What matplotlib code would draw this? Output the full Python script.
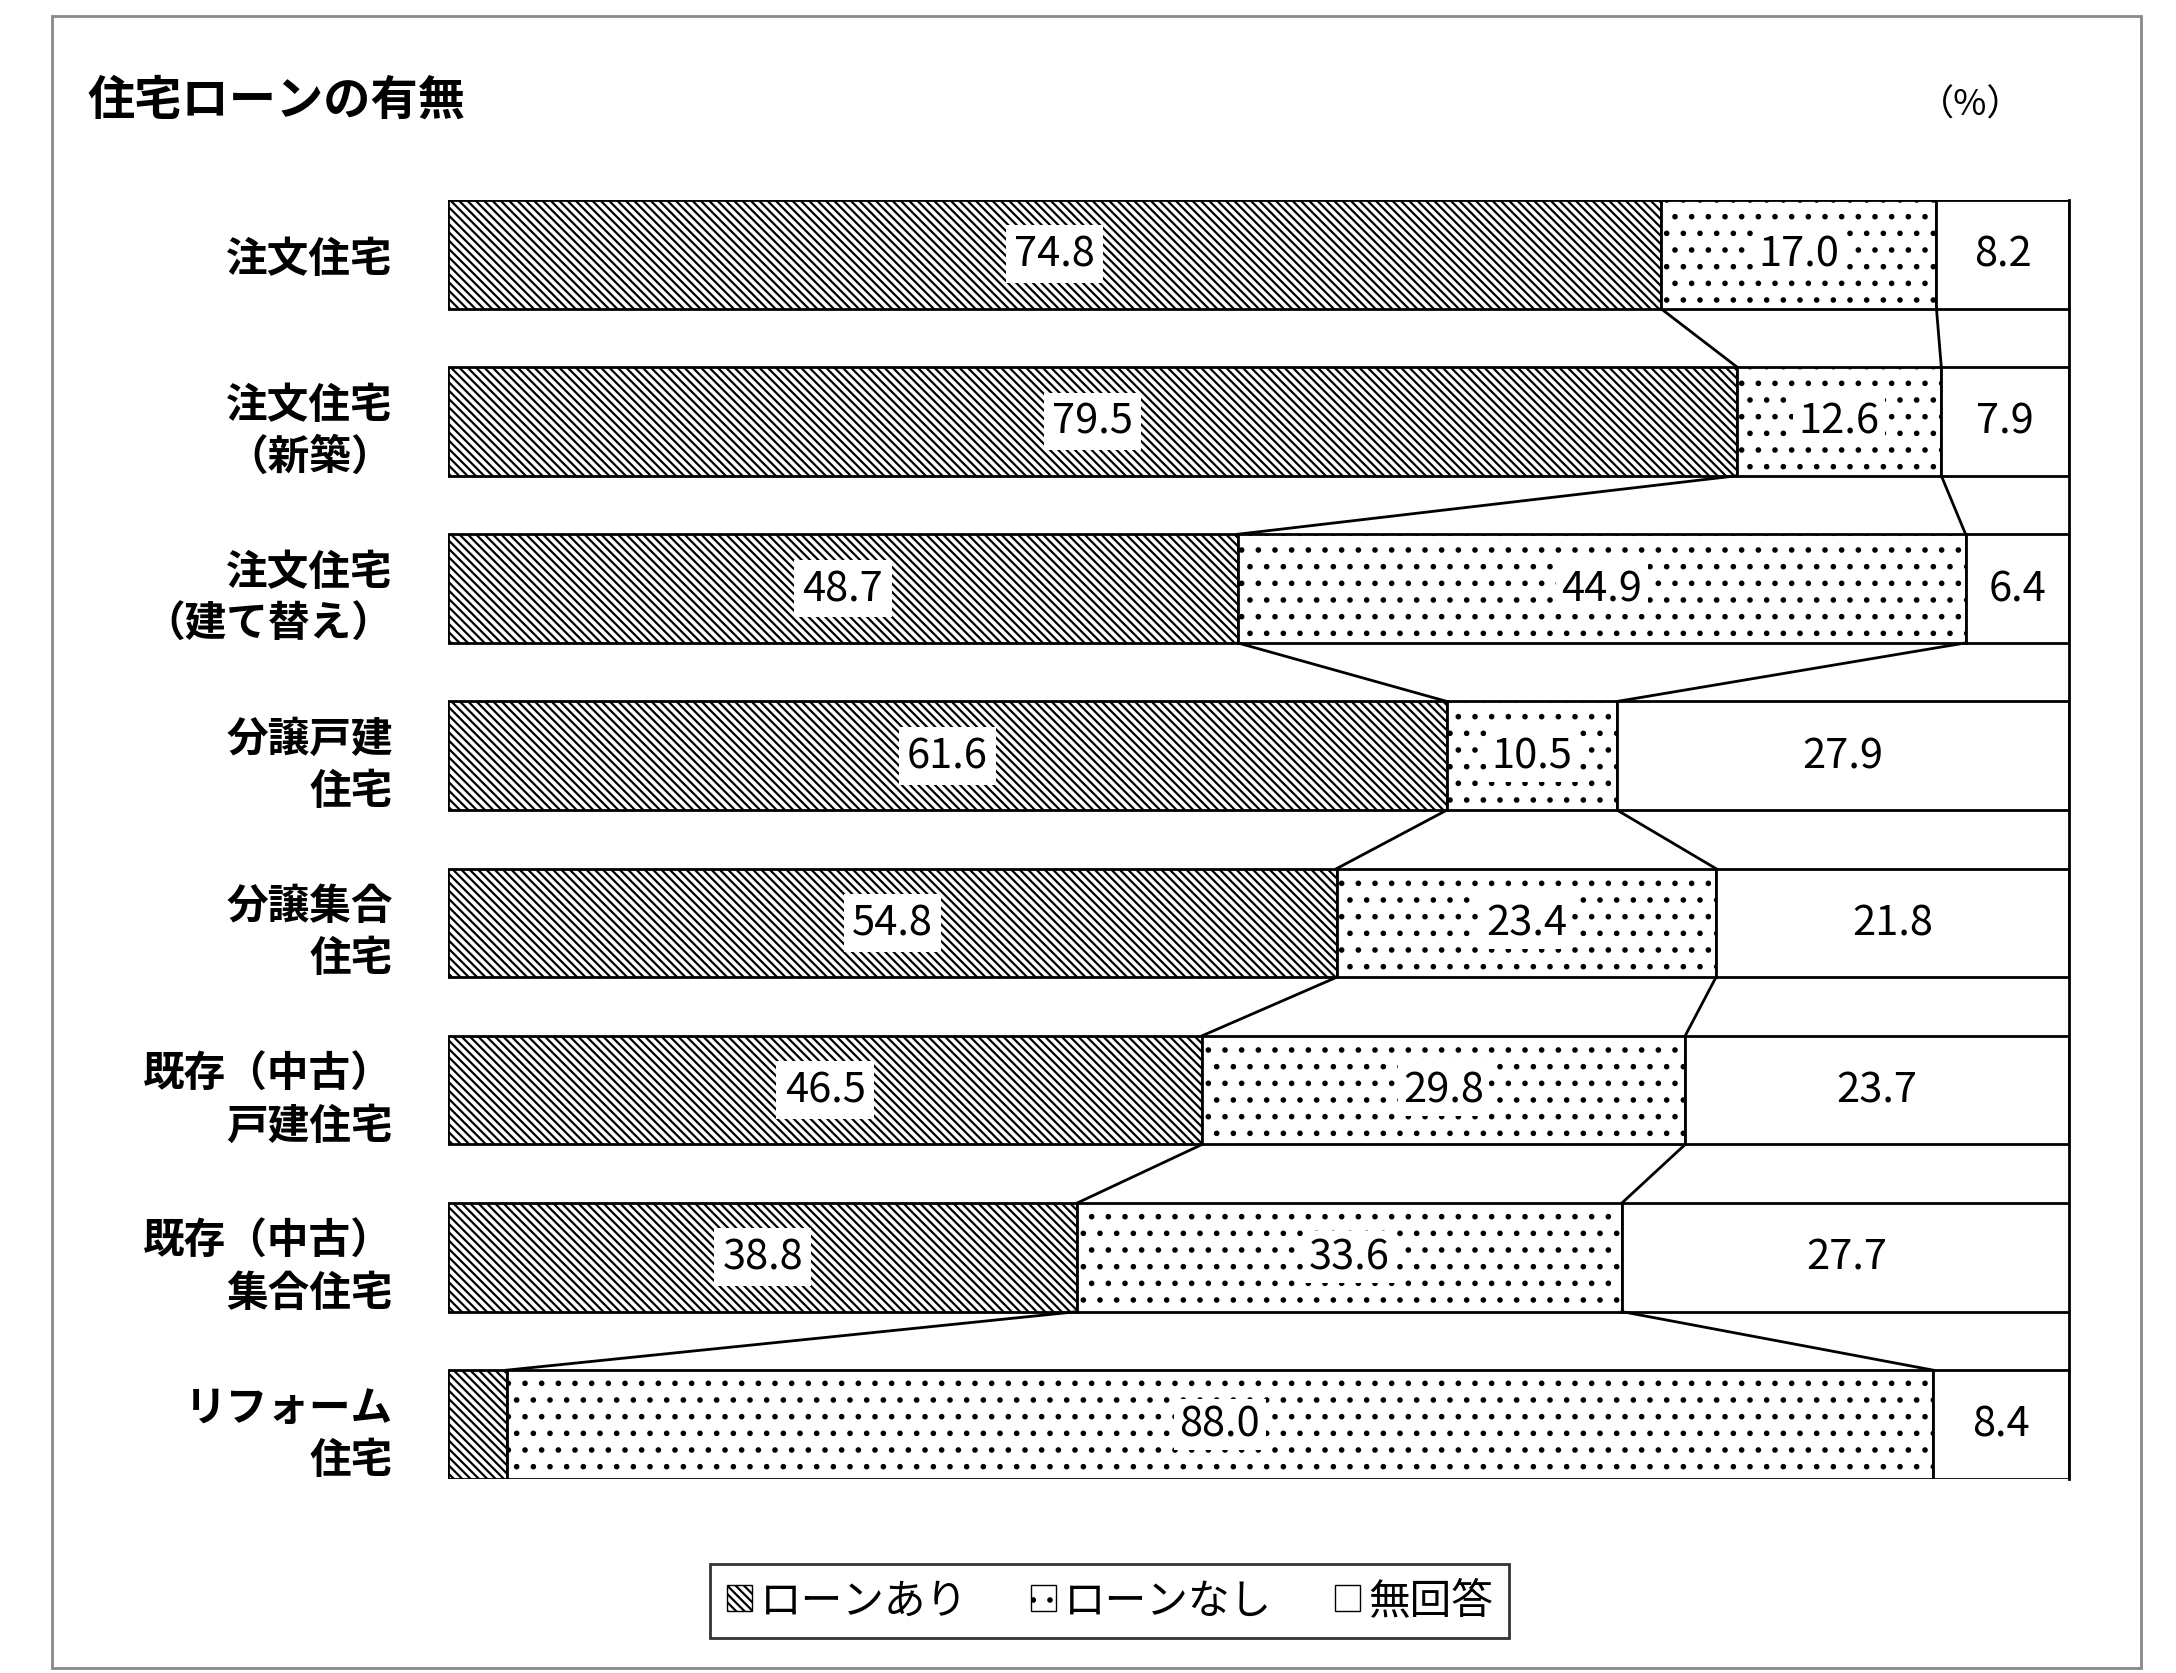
import matplotlib
matplotlib.use("Agg")
import matplotlib.pyplot as plt
from matplotlib.patches import Rectangle, Patch

plt.rcParams['font.family'] = 'Noto Sans CJK JP'
plt.rcParams['hatch.linewidth'] = 1.6

categories = ["注文住宅", "注文住宅\n（新築）", "注文住宅\n（建て替え）", "分譲戸建\n住宅",
              "分譲集合\n住宅", "既存（中古）\n戸建住宅", "既存（中古）\n集合住宅", "リフォーム\n住宅"]
loan_yes = [74.8, 79.5, 48.7, 61.6, 54.8, 46.5, 38.8, 3.6]
loan_no = [17.0, 12.6, 44.9, 10.5, 23.4, 29.8, 33.6, 88.0]
no_answer = [8.2, 7.9, 6.4, 27.9, 21.8, 23.7, 27.7, 8.4]
series_names = ["ローンあり", "ローンなし", "無回答"]

fig = plt.figure(figsize=(21.76, 16.74), dpi=100)
fig.patches.append(Rectangle((0.024, 0.003), 0.96, 0.987, transform=fig.transFigure,
                             fill=False, edgecolor='#888888', lw=2))
ax = fig.add_axes([0.206, 0.116, 0.745, 0.764])
h = 0.65
ys = list(range(len(categories)))
for i, y in enumerate(ys):
    a, b, c = loan_yes[i], loan_no[i], no_answer[i]
    ax.barh(y, a, height=h, left=0, color='white', edgecolor='black', hatch='\\\\\\\\', lw=2)
    ax.barh(y, b, height=h, left=a, color='white', edgecolor='black', hatch='.', lw=2)
    ax.barh(y, c, height=h, left=a + b, color='white', edgecolor='black', lw=2)
    fs = 30
    if a > 10:
        ax.text(a / 2, y, f"{a:.1f}", ha='center', va='center', fontsize=fs,
                bbox=dict(facecolor='white', edgecolor='none', pad=6))
    ax.text(a + b / 2, y, f"{b:.1f}", ha='center', va='center', fontsize=fs,
            bbox=dict(facecolor='white', edgecolor='none', pad=4))
    ax.text(a + b + c / 2, y, f"{c:.1f}", ha='center', va='center', fontsize=fs,
            bbox=dict(facecolor='white', edgecolor='none', pad=1))
    if i < len(ys) - 1:
        for x0, x1 in [(a, loan_yes[i + 1]), (a + b, loan_yes[i + 1] + loan_no[i + 1])]:
            ax.plot([x0, x1], [y + h / 2, y + 1 - h / 2], color='black', lw=2)
ax.set_xlim(0, 100)
ax.set_ylim(len(ys) - 1 + h / 2, -h / 2)
ax.set_yticks(ys)
ax.set_yticklabels(categories, fontsize=30, ha='right', linespacing=1.3, fontweight='bold')
ax.tick_params(axis='y', length=0, pad=40)
ax.set_xticks([])
for s in ax.spines.values():
    s.set_visible(False)
ax.spines['right'].set_visible(True)
ax.spines['right'].set_linewidth(2)

fig.text(0.04, 0.94, "住宅ローンの有無", fontsize=34, fontweight='bold', va='center')
fig.text(0.93, 0.937, "（%）", fontsize=26, va='center', ha='right')

handles = [Patch(facecolor='white', edgecolor='black', hatch='\\\\\\\\'),
           Patch(facecolor='white', edgecolor='black', hatch='.'),
           Patch(facecolor='white', edgecolor='black')]
leg = fig.legend(handles, series_names, loc='center', bbox_to_anchor=(0.51, 0.043), ncol=3,
                 fontsize=30, frameon=True, fancybox=False, edgecolor='black',
                 handlelength=0.6, handleheight=0.6, handletextpad=0.2, columnspacing=1.5)
leg.get_frame().set_linewidth(2)
fig.savefig("out.png", dpi=100)
